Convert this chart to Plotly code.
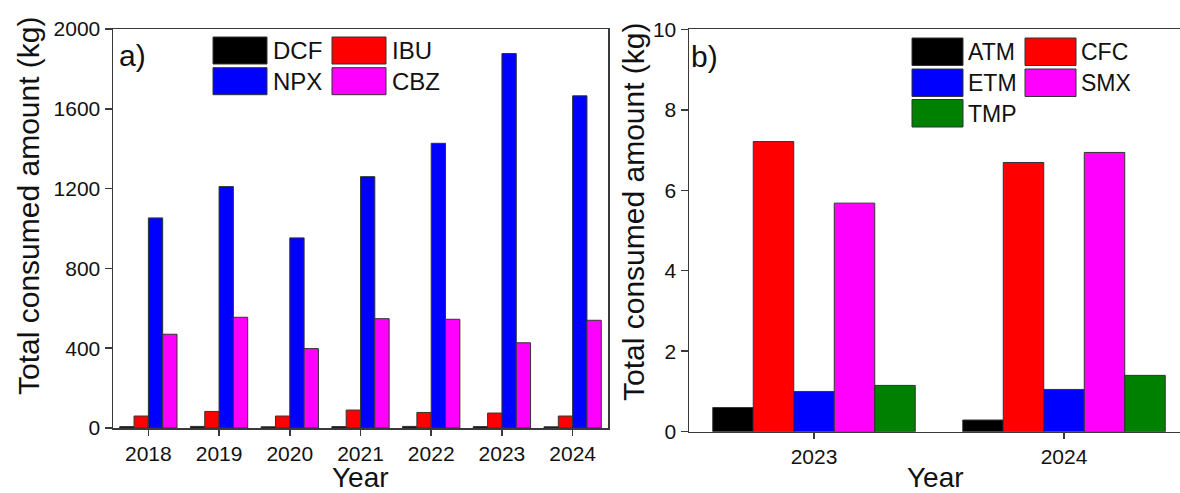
import plotly.graph_objects as go

# ---------------- data ----------------
years_a = ["2018", "2019", "2020", "2021", "2022", "2023", "2024"]
dcf = [7, 8, 6, 7, 8, 7, 6]
ibu = [60, 83, 60, 90, 78, 75, 60]
npx = [1053, 1210, 953, 1260, 1427, 1877, 1665]
cbz = [470, 555, 398, 548, 545, 427, 540]

years_b = ["2023", "2024"]
atm = [0.60, 0.29]
cfc = [7.21, 6.69]
etm = [1.00, 1.05]
smx = [5.68, 6.94]
tmp = [1.15, 1.40]

ticks_a = [0, 400, 800, 1200, 1600, 2000]
ticks_b = [0, 2, 4, 6, 8, 10]

W, H = 1180, 493
FONT = "Arial, Liberation Sans, sans-serif"
AXC = "#3a3a3a"
EDGE = "#333333"

def px(x):
    return x / W

def py(y):
    return 1 - y / H

fig = go.Figure()

series_a = [("DCF", dcf, "#000000"), ("IBU", ibu, "#ff0000"),
            ("NPX", npx, "#0000ff"), ("CBZ", cbz, "#ff00ff")]
for name, vals, col in series_a:
    fig.add_trace(go.Bar(x=years_a, y=vals, name=name, marker_color=col,
                         marker_line=dict(color=EDGE, width=1),
                         xaxis="x", yaxis="y", showlegend=False))

series_b = [("ATM", atm, "#000000"), ("CFC", cfc, "#ff0000"),
            ("ETM", etm, "#0000ff"), ("SMX", smx, "#ff00ff"),
            ("TMP", tmp, "#008000")]
for name, vals, col in series_b:
    fig.add_trace(go.Bar(x=years_b, y=vals, name=name, marker_color=col,
                         marker_line=dict(color=EDGE, width=1),
                         xaxis="x2", yaxis="y2", showlegend=False))

tickfont = dict(family=FONT, size=21, color="#111111")
common_x = dict(type="category", showline=True, linecolor=AXC, linewidth=1.5,
                ticks="outside", ticklen=6, tickwidth=1.5, tickcolor=AXC,
                showgrid=False, zeroline=False, tickfont=tickfont,
                mirror=True, automargin=False, fixedrange=True)
common_y = dict(showline=True, linecolor=AXC, linewidth=1.5,
                ticks="outside", ticklen=7, tickwidth=1.5, tickcolor=AXC,
                showgrid=False, zeroline=False, tickfont=tickfont,
                automargin=False, fixedrange=True)

fig.update_layout(
    width=W, height=H,
    margin=dict(l=0, r=0, t=0, b=0),
    paper_bgcolor="white", plot_bgcolor="white",
    barmode="group", bargap=0.19, bargroupgap=0,
    showlegend=False,
    xaxis=dict(domain=[px(113), px(608)], anchor="y", range=[-0.5, 6.5], **common_x),
    yaxis=dict(domain=[py(428), py(29)], anchor="x", range=[0, 2000],
               tickvals=ticks_a, mirror=True, **common_y),
    xaxis2=dict(domain=[px(689), 1.0], anchor="y2", range=[-0.5, 1.464], **common_x),
    yaxis2=dict(domain=[py(431.7), py(29.3)], anchor="x2", range=[0, 10],
                tickvals=ticks_b, mirror=False, **common_y),
)

shapes = []
annotations = []

def swatch(x0, y0, x1, y1, color):
    shapes.append(dict(type="rect", xref="paper", yref="paper",
                       x0=px(x0), x1=px(x1), y0=py(y1), y1=py(y0),
                       fillcolor=color, line=dict(color=EDGE, width=1)))

def text(x, y, s, size, xanchor="left", yanchor="middle", angle=0):
    annotations.append(dict(xref="paper", yref="paper", x=px(x), y=py(y),
                            text=s, showarrow=False, xanchor=xanchor,
                            yanchor=yanchor, textangle=angle,
                            font=dict(family=FONT, size=size, color="#111111")))

# legend a
leg_a = [("DCF", "#000000", 213, 37), ("IBU", "#ff0000", 332, 37),
         ("NPX", "#0000ff", 213, 67.7), ("CBZ", "#ff00ff", 332, 67.7)]
for name, col, x0, y0 in leg_a:
    swatch(x0, y0, x0 + 54, y0 + 27, col)
    text(x0 + 58, y0 + 14, name, 24)

# legend b
leg_b = [("ATM", "#000000", 912, 38), ("CFC", "#ff0000", 1025, 38),
         ("ETM", "#0000ff", 912, 69), ("SMX", "#ff00ff", 1025, 69),
         ("TMP", "#008000", 912, 99.5)]
for name, col, x0, y0 in leg_b:
    swatch(x0, y0, x0 + 51, y0 + 27.5, col)
    text(x0 + 54, y0 + 14, name, 23)

# panel labels
text(117, 55, "a)", 30)
text(689, 57, "b)", 30)

# axis titles
text(28, 206, "Total consumed amount (kg)", 30, xanchor="center", angle=-90)
text(633, 212, "Total consumed amount (kg)", 30, xanchor="center", angle=-90)
text(360, 495, "Year", 28, xanchor="center", yanchor="bottom")
text(935, 495, "Year", 28, xanchor="center", yanchor="bottom")

fig.update_layout(shapes=shapes, annotations=annotations)

fig.write_html(
    "out.html",
    config={"displayModeBar": False, "staticPlot": True},
    post_script="document.body.style.margin='0';document.body.style.overflow='hidden';",
)
